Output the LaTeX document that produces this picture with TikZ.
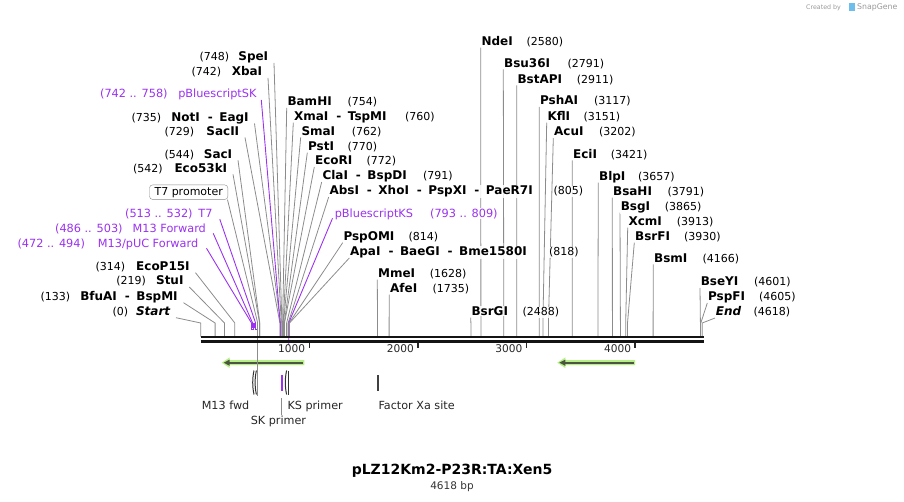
\documentclass[tikz,border=0pt]{standalone}
\usepackage{fontspec}
\setmainfont{DejaVu Sans}
\usetikzlibrary{backgrounds}
\definecolor{primer}{RGB}{155,50,240}
\definecolor{featgreen}{RGB}{181,240,130}
\definecolor{darkline}{RGB}{75,85,65}
\definecolor{leadgray}{RGB}{140,140,140}
\definecolor{logoblue}{RGB}{110,190,235}
\newcommand\fsR{\fontsize{11}{13}\selectfont}
\newcommand\fsP{\fontsize{11.3}{13}\selectfont}
\newcommand\fsB{\fontsize{12}{14}\selectfont\bfseries}
\newcommand\dsep{\hspace{8pt}-\hspace{6.5pt}}
\newcommand\Rlab[6]{%
  \node[enz,anchor=base west] (#1) at (#2,#3) {#4};
  \node[lab,anchor=base west] (#1n) at (#5,#3) {#6};}
\newcommand\Llab[6]{%
  \node[enz,anchor=base east] (#1) at (#2,#3) {#4};
  \node[lab,anchor=base east] (#1n) at (#5,#3) {#6};}
\newcommand\site[2]{\coordinate (#1) at (#2,323);}
\newcommand\RL[2]{\draw[lead] ([yshift=-2pt]#1.base west) -- (#2) -- (#2|-bb);}
\newcommand\LL[2]{\draw[lead] ([xshift=5pt,yshift=-2pt]#1.base east) -- (#2) -- (#2|-bb);}
\newcommand\featarrow[2]{%
  \fill[featgreen] (#2,360.2) -- (#1+8,360.2) -- (#1+8,357.4) -- (#1,362.7) -- (#1+8,368) -- (#1+8,365.2) -- (#2,365.2) -- cycle;
  \draw[darkline, line width=2pt] (#2-1.5,362.7) -- (#1+5,362.7);
  \fill[darkline] (#1+2,362.7) -- (#1+8,359.6) -- (#1+8,365.8) -- cycle;}
\begin{document}
\begin{tikzpicture}[x=1pt,y=-1pt,
  lab/.style={inner sep=0.6pt, fill=white, fill opacity=0.85, text opacity=1, font=\fsR},
  enz/.style={lab, font=\fsB},
  plab/.style={lab, font=\fsP, text=primer},
  lead/.style={draw=leadgray, line width=0.8pt},
  plead/.style={draw=primer, line width=0.9pt},
  pbracket/.style={draw=primer, line width=0.6pt},
  sublab/.style={inner sep=0.6pt, anchor=base west, font=\fontsize{11.2}{13}\selectfont, text=black!85},
  ticklab/.style={inner sep=0pt, font=\fontsize{10.6}{12}\selectfont, text=black!85, anchor=base east},
  tickmark/.style={line width=1.6pt, draw=black!85}]
\useasboundingbox (0,0) rectangle (904,502);
\coordinate (bb) at (0,336.5);
% cut sites / feature positions
\site{s-start}{200.7}\site{s-bfu}{215.1}\site{s-stu}{224.5}\site{s-eco15}{234.8}
\site{s-pucf}{251.5}\site{s-pucfe}{253.6}
\site{s-m13f}{252.6}\site{s-m13fe}{254.4}
\site{s-t7}{255.6}\site{s-t7e}{257.5}
\site{s-t7p}{257.7}
\site{s-eco53}{259.6}\site{s-saci}{259.8}
\site{s-sacii}{279.9}\site{s-not}{280.5}\site{s-xba}{281.3}\site{s-spe}{281.9}\site{s-sk}{280.2}
\site{s-bam}{282.6}\site{s-xma}{283.2}\site{s-sma}{283.5}\site{s-pst}{284.3}\site{s-ecori}{284.5}
\site{s-cla}{286.6}\site{s-abs}{288.1}\site{s-ks}{288.7}\site{s-pspo}{289.1}\site{s-apa}{289.5}
\site{s-mme}{377.5}\site{s-afe}{389.1}\site{s-bsrg}{470.9}\site{s-nde}{480.9}
\site{s-bsu}{503.8}\site{s-bstap}{516.8}\site{s-psha}{539.2}\site{s-kfl}{542.9}
\site{s-acu}{548.4}\site{s-eci}{572.2}\site{s-blp}{597.9}\site{s-bsah}{612.4}
\site{s-bsg}{620.4}\site{s-xcm}{625.7}\site{s-bsrf}{627.5}\site{s-bsm}{653.1}
\site{s-bsey}{700.4}\site{s-pspf}{700.8}\site{s-end}{702.2}

% feature arrows
\featarrow{221.7}{304.3}
\featarrow{557.3}{635}

% feature marks below the map
\draw[black!80, line width=1pt] (254,370.5) .. controls (252.3,378) and (252.3,387) .. (254,394.5);
\draw[black!80, line width=1pt] (256.4,370.5) .. controls (254.7,378) and (254.7,387) .. (256.4,394.5);
\draw[black!80, line width=1pt] (286.6,370.5) .. controls (284.9,378) and (284.9,387) .. (286.6,394.5);
\draw[black!80, line width=1.4pt] (288.4,370.5) -- (288.4,394.5);
\draw[primer, line width=1.8pt] (281.7,375) -- (281.7,391);
\draw[black!75, line width=1.8pt] (377.7,375) -- (377.7,391);
\draw[lead] (s-t7p) -- ++(0,73);

% backbone
\draw[line width=2.6pt, black!92] (200.5,337) -- (703.5,337);
\draw[line width=2.4pt, black!92] (200.5,341.5) -- (703.5,341.5);
\draw[tickmark] (309.3,342.5) -- (309.3,348);
\draw[tickmark] (417.9,342.5) -- (417.9,348);
\draw[tickmark] (526.6,342.5) -- (526.6,348);
\draw[tickmark] (635.2,342.5) -- (635.2,348);
\node[ticklab] (t1) at (305.3,352.3) {1000};
\node[ticklab] (t2) at (414,352.3) {2000};
\node[ticklab] (t3) at (522.6,352.3) {3000};
\node[ticklab] (t4) at (631.2,352.3) {4000};

% labels below
\node[sublab] (m13fwd) at (201,409) {M13 fwd};
\node[sublab] (ksprimer) at (286.7,409) {KS primer};
\node[sublab] (factorxa) at (377.7,409) {Factor Xa site};
\node[sublab] (skprimer) at (250,424) {SK primer};
\coordinate (skmark) at (281.3,398);
\draw[lead] (skmark) -- (skmark|-skprimer.north);

% left labels
\Llab{spe}{269}{61}{SpeI}{230}{(748)}
\Llab{xba}{263}{76}{XbaI}{222}{(742)}
\Llab{not}{249.5}{121.5}{NotI\dsep EagI}{162}{(735)}
\Llab{sacii}{240}{135.5}{SacII}{195}{(729)}
\Llab{saci}{233}{158.3}{SacI}{195}{(544)}
\Llab{eco53}{228}{172.3}{Eco53kI}{163.5}{(542)}
\Llab{eco15}{190.5}{270.7}{EcoP15I}{126}{(314)}
\Llab{stu}{184.3}{285}{StuI}{146.7}{(219)}
\Llab{bfu}{178.5}{300.7}{BfuAI\dsep BspMI}{71}{(133)}
\Llab{start}{171}{315.7}{\itshape Start}{129}{(0)}
\node[draw=leadgray, fill=white, rounded corners=3pt, font=\fsR, inner xsep=5pt, inner ysep=0pt, minimum height=14.5pt, anchor=east] (t7prom) at (228,192.2) {T7 promoter};

% purple (primer) labels, left
\node[plab, anchor=base west] (skr) at (99.3,97.3) {(742 .. 758)};
\node[plab, anchor=base east] (sk) at (257.3,97.3) {pBluescriptSK};
\node[plab, anchor=base west] (t7r) at (124.3,217.3) {(513 .. 532)};
\node[plab, anchor=base east] (t7) at (213.3,217.3) {T7};
\node[plab, anchor=base west] (m13fr) at (54.3,232.3) {(486 .. 503)};
\node[plab, anchor=base east] (m13f) at (206.7,232.3) {M13 Forward};
\node[plab, anchor=base west] (pucfr) at (16.7,247.3) {(472 .. 494)};
\node[plab, anchor=base east] (pucf) at (199,247.3) {M13/pUC Forward};

% right labels
\Rlab{bam}{286.7}{106}{BamHI}{346.7}{(754)}
\Rlab{xma}{293.3}{120.7}{XmaI\dsep TspMI}{404.3}{(760)}
\Rlab{sma}{300.7}{135.3}{SmaI}{351}{(762)}
\Rlab{pst}{307.3}{150.7}{PstI}{346.7}{(770)}
\Rlab{ecori}{314.3}{165}{EcoRI}{365.7}{(772)}
\Rlab{cla}{321.7}{180}{ClaI\dsep BspDI}{422.3}{(791)}
\Rlab{abs}{328.7}{195}{AbsI\dsep XhoI\dsep PspXI\dsep PaeR7I}{552.7}{(805)}
\node[plab, anchor=base west] (ks) at (334,217.3) {pBluescriptKS};
\node[plab, anchor=base west] (ksr) at (429.3,217.3) {(793 .. 809)};
\Rlab{pspo}{342.7}{240.7}{PspOMI}{407.7}{(814)}
\Rlab{apa}{349.3}{256}{ApaI\dsep BaeGI\dsep Bme1580I}{548.3}{(818)}
\Rlab{mme}{377.3}{277.7}{MmeI}{429}{(1628)}
\Rlab{afe}{389.3}{292.7}{AfeI}{431.7}{(1735)}
\Rlab{bsrg}{470.7}{315.7}{BsrGI}{521.7}{(2488)}
\Rlab{nde}{480.7}{45.7}{NdeI}{525.7}{(2580)}
\Rlab{bsu}{503.3}{67.3}{Bsu36I}{566.7}{(2791)}
\Rlab{bstap}{516.7}{83.3}{BstAPI}{576}{(2911)}
\Rlab{psha}{539.3}{105}{PshAI}{593.3}{(3117)}
\Rlab{kfl}{546.7}{120.7}{KflI}{582.7}{(3151)}
\Rlab{acu}{553.3}{136}{AcuI}{598.3}{(3202)}
\Rlab{eci}{572.3}{158.3}{EciI}{610}{(3421)}
\Rlab{blp}{598.3}{180.7}{BlpI}{637.3}{(3657)}
\Rlab{bsah}{612.3}{195.7}{BsaHI}{666.7}{(3791)}
\Rlab{bsg}{620}{210.7}{BsgI}{664}{(3865)}
\Rlab{xcm}{627.7}{225.7}{XcmI}{676}{(3913)}
\Rlab{bsrf}{634.3}{240.7}{BsrFI}{683.3}{(3930)}
\Rlab{bsm}{653.3}{262.3}{BsmI}{701.7}{(4166)}
\Rlab{bsey}{700}{286}{BseYI}{753.3}{(4601)}
\Rlab{pspf}{707.3}{301}{PspFI}{758.3}{(4605)}
\Rlab{end}{715}{316}{\itshape End}{752.7}{(4618)}

% title
\node[font=\fontsize{14}{16}\selectfont\bfseries] (title) at (452,471) {pLZ12Km2-P23R:TA:Xen5};
\node[font=\fontsize{10.5}{12}\selectfont, text=black!80] (len) at (452,486.5) {4618 bp};

% credit
\node[font=\fontsize{6.3}{7}\selectfont, text=black!40, anchor=west, inner sep=0pt] (cred) at (806,7.5) {Created by};
\fill[logoblue] (848.5,3.5) rectangle (855,11.5);
\node[font=\fontsize{7.8}{9}\selectfont, text=black!40, anchor=west, inner sep=0pt] (sg) at (857,7.5) {SnapGene};

\begin{pgfonlayer}{background}
\LL{spe}{s-spe}
\LL{xba}{s-xba}
\LL{not}{s-not}
\LL{sacii}{s-sacii}
\LL{saci}{s-saci}
\LL{eco53}{s-eco53}
\LL{eco15}{s-eco15}
\LL{stu}{s-stu}
\LL{bfu}{s-bfu}
\LL{start}{s-start}
\draw[lead] ([xshift=-0.5pt]t7prom.south east) -- (s-t7p);
\draw[plead] ([xshift=4pt,yshift=-2.7pt]sk.base east) -- (s-sk) -- (s-sk|-bb);
\draw[plead] ([xshift=6.5pt,yshift=-2pt]t7.base east) -- (s-t7);
\draw[pbracket] (s-t7) -- ++(0,6) -| (s-t7e);
\draw[plead] ([xshift=6.5pt,yshift=-1pt]m13f.base east) -- (s-m13f);
\draw[pbracket] (s-m13f) -- ++(0,4) -| (s-m13fe);
\draw[plead] ([xshift=7.5pt,yshift=-1pt]pucf.base east) -- (s-pucf);
\draw[pbracket] (s-pucf) -- ++(0,6) -| (s-pucfe);
\RL{bam}{s-bam}
\RL{xma}{s-xma}
\RL{sma}{s-sma}
\RL{pst}{s-pst}
\RL{ecori}{s-ecori}
\RL{cla}{s-cla}
\RL{abs}{s-abs}
\draw[plead] ([xshift=-1.5pt,yshift=-1pt]ks.base west) -- (s-ks) -- ++(0,22);
\RL{pspo}{s-pspo}
\RL{apa}{s-apa}
\RL{mme}{s-mme}
\RL{afe}{s-afe}
\RL{bsrg}{s-bsrg}
\RL{nde}{s-nde}
\RL{bsu}{s-bsu}
\RL{bstap}{s-bstap}
\RL{psha}{s-psha}
\RL{kfl}{s-kfl}
\RL{acu}{s-acu}
\RL{eci}{s-eci}
\RL{blp}{s-blp}
\RL{bsah}{s-bsah}
\RL{bsg}{s-bsg}
\RL{xcm}{s-xcm}
\RL{bsrf}{s-bsrf}
\RL{bsm}{s-bsm}
\RL{bsey}{s-bsey}
\RL{pspf}{s-pspf}
\RL{end}{s-end}
\end{pgfonlayer}
\end{tikzpicture}
\end{document}
